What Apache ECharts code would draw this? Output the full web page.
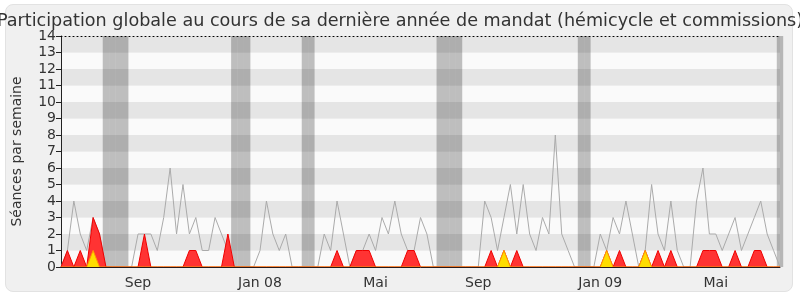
<!DOCTYPE html>
<html><head><meta charset="utf-8">
<script src="https://cdn.jsdelivr.net/npm/echarts@6/dist/echarts.min.js"></script>
<style>
html,body{margin:0;padding:0;background:#fff;}
#bg{position:absolute;left:5px;top:4px;width:786px;height:286px;background:#f0f0f0;border:1px solid #e2e2e2;border-radius:8px;}
#c{position:absolute;left:0;top:0;width:800px;height:300px;}
</style></head>
<body><div id="bg"></div><div id="c"></div>
<script>
// Weekly values (113 weeks)
const total = [0,1,4,2,1,3,2,0,0,0, 0,0,2,2,2,1,3,6,2,5, 2,3,1,1,3,2,1,0,0,0,
  0,1,4,2,1,2,0,0,0,0, 0,2,1,4,2,0,1,1,2,1, 3,2,4,2,1,1,3,2,0,0,
  0,0,0,0,0,0,4,3,1,3, 5,2,5,2,1,3,2,8,2,1, 0,0,0,0,2,1,3,2,4,2,
  0,1,5,2,1,4,1,0,0,4, 6,2,2,1,2,3,1,2,3,4, 2,1,0];
const hemicycle = [0,1,0,1,0,3,2,0,0,0, 0,0,0,2,0,0,0,0,0,0, 1,1,0,0,0,0,2,0,0,0,
  0,0,0,0,0,0,0,0,0,0, 0,0,0,1,0,0,1,1,1,0, 0,0,0,0,1,1,0,0,0,0,
  0,0,0,0,0,0,0,1,0,1, 0,1,0,0,0,0,0,0,0,0, 0,0,0,0,0,1,0,1,0,0,
  0,1,0,1,0,1,0,0,0,0, 1,1,1,0,0,1,0,0,1,1, 0,0,0];
const questions = [0,0,0,0,0,1,0,0,0,0, 0,0,0,0,0,0,0,0,0,0, 0,0,0,0,0,0,0,0,0,0,
  0,0,0,0,0,0,0,0,0,0, 0,0,0,0,0,0,0,0,0,0, 0,0,0,0,0,0,0,0,0,0,
  0,0,0,0,0,0,0,0,0,1, 0,0,0,0,0,0,0,0,0,0, 0,0,0,0,0,1,0,0,0,0,
  0,1,0,0,0,0,0,0,0,0, 0,0,0,0,0,0,0,0,0,0, 0,0,0];
// Vacation periods (week index ranges, inclusive)
const vacances = [[7,10],[27,29],[38,39],[59,62],[81,82],[112,112]];
// Tick labels
const labelWeeks = [12,31,49,65,84,102];
const labelTexts = ['Sep','Jan 08','Mai','Sep','Jan 09','Mai'];

const weeks = total.map((_, i) => String(i));
const vacData = weeks.map((_, i) => vacances.some(r => i >= r[0] && i <= r[1]) ? 14 : '-');

const chart = echarts.init(document.getElementById('c'), null, {renderer:'canvas'});
const FONT = 'DejaVu Sans';
chart.setOption({
  animation: false,
  backgroundColor: 'transparent',
  textStyle: {fontFamily: FONT},
  title: {
    text: 'Participation globale au cours de sa dernière année de mandat (hémicycle et commissions)',
    left: 'center', top: 7,
    textStyle: {fontFamily: FONT, fontSize: 17.6, fontWeight: 'normal', color: '#333'}
  },
  grid: {left: 61, top: 36, width: 719, height: 231, containLabel: false},
  xAxis: [{
    type: 'category', data: weeks, boundaryGap: false, z: 10,
    axisLine: {show: true, lineStyle: {color: '#2a1a1a', width: 1}},
    axisTick: {show: false},
    splitLine: {show: false},
    axisLabel: {
      interval: (idx) => labelWeeks.includes(idx),
      formatter: (v, idx) => { const k = labelWeeks.indexOf(Number(v)); return k >= 0 ? labelTexts[k] : ''; },
      fontFamily: FONT, fontSize: 14, color: '#333', margin: 9
    }
  }, {
    type: 'category', data: weeks, boundaryGap: false, position: 'top', z: 10,
    axisLine: {show: true, lineStyle: {color: '#000', width: 1, type: [1, 3]}},
    axisTick: {show: false}, axisLabel: {show: false}, splitLine: {show: false}
  }],
  yAxis: {
    type: 'value', min: 0, max: 14, interval: 1,
    name: 'Séances par semaine', nameLocation: 'middle', nameGap: 37, nameRotate: 90,
    nameTextStyle: {fontFamily: FONT, fontSize: 14, color: '#333'},
    axisLine: {show: true, lineStyle: {color: '#222', width: 1}},
    axisTick: {show: true, length: 5, lineStyle: {color: '#222'}},
    axisLabel: {fontFamily: FONT, fontSize: 14, color: '#333', margin: 5},
    splitLine: {show: false},
    splitArea: {show: true, areaStyle: {color: ['#fafafa', '#e5e5e5']}}
  },
  series: [{
    type: 'bar', data: vacData, barWidth: '100%', silent: true, z: 1,
    itemStyle: {color: 'rgba(0,0,0,0.24)'}
  }, {
    type: 'line', data: total, symbol: 'none', silent: true, z: 2,
    lineStyle: {color: '#aaaaaa', width: 1}
  }, {
    type: 'line', data: hemicycle, symbol: 'none', silent: true, z: 3,
    lineStyle: {color: '#ee0000', width: 1},
    areaStyle: {color: '#ff3333', opacity: 1}
  }, {
    type: 'line', data: questions, symbol: 'none', silent: true, z: 4,
    lineStyle: {color: '#ff9900', width: 1},
    areaStyle: {color: '#ffdd00', opacity: 1}
  }]
});
</script></body></html>
